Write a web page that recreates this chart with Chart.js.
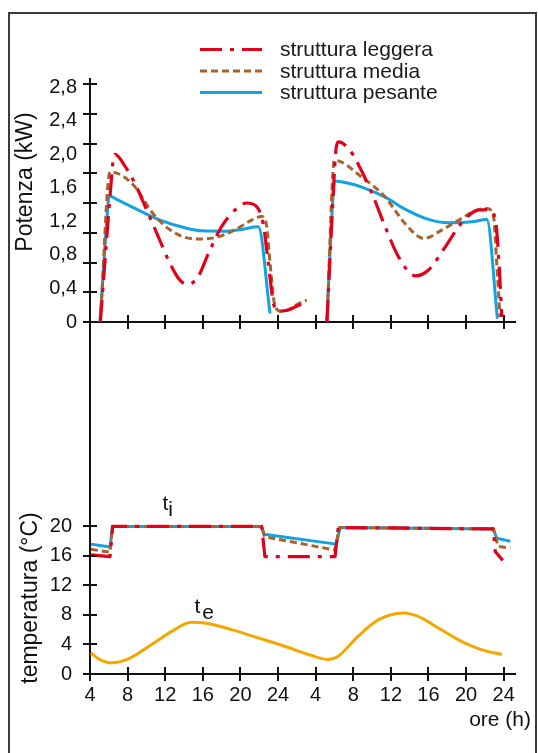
<!DOCTYPE html>
<html lang="it">
<head>
<meta charset="utf-8">
<title>Potenza e temperatura</title>
<script src="https://cdn.jsdelivr.net/npm/chart.js@4.4.1/dist/chart.umd.min.js"></script>
<style>
  html, body { margin: 0; padding: 0; background: #fff; overflow: hidden; }
  #foglio { position: relative; width: 538px; height: 753px; }
  #cornice { position: absolute; left: 8px; top: 12px; width: 529px; height: 760px; border: 2px solid #3b3b3b; box-sizing: border-box; }
  canvas { position: absolute; left: 0; }
  #potenza { top: 0; }
  #temperatura { top: 300px; }
</style>
</head>
<body>
<div id="foglio">
  <div id="cornice"></div>
  <canvas id="potenza" width="538" height="345"></canvas>
  <canvas id="temperatura" width="538" height="453"></canvas>
</div>
<script>
// asse x: due giorni di fila, ore 4..48 (28..48 = 4..24 del secondo giorno)
var oreTacche = [4, 8, 12, 16, 20, 24, 28, 32, 36, 40, 44, 48];
var oreEtichette = ['4', '8', '12', '16', '20', '24', '4', '8', '12', '16', '20', '24'];

var potTacche = [0, 0.4, 0.8, 1.2, 1.6, 2.0, 2.4, 2.8];
var potEtichette = ['0', '0,4', '0,8', '1,2', '1,6', '2,0', '2,4', '2,8'];
var tempTacche = [0, 4, 8, 12, 16, 20];
var tempEtichette = ['0', '4', '8', '12', '16', '20'];

// potenza (kW) - null = impianto spento
var oreLeggera = [5.1, 6.2, 6.45, 6.66, 7.72, 8.79, 10.03, 11.27, 12.5, 13.57, 14.4, 15.5, 16.6, 18.0, 19.4, 20.67, 21.7, 22.4, 22.97, 23.5, 24.03, 25.0, 26.2, 27.1, 28.0,
                  29.2, 29.9, 30.15, 30.4, 31.5, 32.5, 34.0, 35.4, 36.8, 38.6, 40.0, 41.8, 43.5, 45.3, 46.4, 47.1, 47.5, 47.8];
var kwLeggera = [0, 1.6, 1.92, 2.0, 1.86, 1.65, 1.335, 1.017, 0.70, 0.50, 0.45, 0.54, 0.82, 1.14, 1.335, 1.42, 1.38, 1.18, 0.70, 0.23, 0.13, 0.14, 0.20, 0.24, null,
                 0, 1.6, 2.05, 2.15, 2.07, 1.89, 1.53, 1.136, 0.78, 0.55, 0.62, 0.90, 1.18, 1.335, 1.34, 1.23, 0.70, 0.06];

var oreMedia = [5.1, 6.13, 7.37, 8.8, 10.56, 12.3, 14.1, 15.9, 17.65, 19.4, 21.2, 22.26, 22.8, 23.15, 23.7, 24.4, 26.2, 27.05, 28.0,
                29.2, 30.0, 32.9, 35.4, 37.5, 39.5, 41.4, 43.5, 45.1, 46.2, 46.9, 47.26, 47.6];
var kwMedia = [0, 1.79, 1.75, 1.61, 1.315, 1.117, 1.01, 0.99, 1.017, 1.10, 1.216, 1.26, 1.14, 0.70, 0.18, 0.125, 0.22, 0.26, null,
               0, 1.93, 1.73, 1.49, 1.176, 0.997, 1.097, 1.235, 1.335, 1.355, 1.27, 0.70, 0.06];

var orePesante = [5.06, 5.9, 6.02, 7.0, 8.79, 11.6, 14.1, 15.9, 18.4, 20.1, 21.9, 23.15, 28.0,
                  29.18, 29.9, 30.0, 31.5, 32.9, 35.4, 37.5, 40.0, 42.1, 44.6, 46.2, 47.33];
var kwPesante = [0, 1.38, 1.505, 1.455, 1.355, 1.21, 1.124, 1.088, 1.084, 1.105, 1.136, 0.10, null,
                 0, 1.6, 1.684, 1.655, 1.61, 1.49, 1.347, 1.224, 1.184, 1.195, 1.224, 0.04];

// temperatura interna ti (°C)
var oreTiLeggera = [4.1, 6.13, 6.4, 22.26, 22.6, 30.06, 30.4, 46.9, 47.1, 47.9];
var tiLeggera = [16.15, 15.9, 20.0, 20.0, 15.9, 15.9, 19.85, 19.66, 16.6, 15.4];
var oreTiMedia = [4.1, 6.13, 6.4, 22.26, 22.55, 30.06, 30.5, 46.9, 47.4, 48.7];
var tiMedia = [16.9, 16.5, 20.0, 20.0, 18.6, 16.8, 19.85, 19.66, 17.3, 17.05];
var oreTiPesante = [4.1, 6.13, 6.4, 22.26, 22.5, 30.2, 30.6, 46.9, 47.26, 48.7];
var tiPesante = [17.6, 17.2, 20.0, 20.0, 18.95, 17.6, 19.85, 19.66, 18.4, 18.0];

// temperatura esterna te (°C)
var oreTe = [4.1, 5.06, 6.3, 8.08, 10.56, 12.7, 14.8, 16.2, 19.07, 21.9, 24.7, 27.6, 29.35, 30.4, 32.5, 34.7, 37.3, 38.9, 41.05, 43.5, 45.6, 47.8];
var te = [2.85, 1.96, 1.51, 2.05, 3.99, 5.78, 7.0, 6.92, 6.01, 4.89, 3.76, 2.5, 1.96, 2.41, 5.1, 7.36, 8.27, 7.81, 6.24, 4.43, 3.31, 2.64];

var FONT = '"Liberation Sans", Arial, sans-serif';
Chart.defaults.font.family = FONT;
Chart.defaults.color = '#111';

var ROSSO = '#e2001a', MARRONE = '#a8622e', AZZURRO = '#12a3e0', ARANCIO = '#f4a700';
var stileLeggera = { borderColor: ROSSO, borderWidth: 3.2, borderDash: [22, 8, 4, 8] };
var stileMedia = { borderColor: MARRONE, borderWidth: 3, borderDash: [7, 4] };
var stilePesante = { borderColor: AZZURRO, borderWidth: 3, borderDash: [] };

function punti(ore, valori) {
    return ore.map(function (h, i) { return { x: h, y: valori[i] }; });
}

function tacchePer(valori) {
    return function (asse) { asse.ticks = valori.map(function (v) { return { value: v }; }); };
}

// tacche che attraversano gli assi
var tacche = {
    id: 'tacche',
    afterDraw: function (chart, args, opts) {
        var ctx = chart.ctx, x = chart.scales.x, y = chart.scales.y;
        var yVal = opts.y || y.ticks.map(function (t) { return t.value; });
        ctx.save();
        ctx.strokeStyle = '#111';
        ctx.lineWidth = 2;
        ctx.beginPath();
        x.ticks.forEach(function (t) {
            var px = Math.round(x.getPixelForValue(t.value));
            ctx.moveTo(px, x.top - 7); ctx.lineTo(px, x.top + 7);
        });
        yVal.forEach(function (v) {
            var py = Math.round(y.getPixelForValue(v));
            ctx.moveTo(y.right - 7, py); ctx.lineTo(y.right + 7, py);
        });
        ctx.stroke();
        ctx.restore();
    }
};

// scritte libere: titoli degli assi, ti / te
var scritte = {
    id: 'scritte',
    afterDraw: function (chart, args, opts) {
        var ctx = chart.ctx;
        (opts.voci || []).forEach(function (v) {
            var x = v.x, y = v.y;
            if (v.ora !== undefined) {
                x = chart.scales.x.getPixelForValue(v.ora);
                y = chart.scales.y.getPixelForValue(v.val);
            }
            ctx.save();
            ctx.fillStyle = '#111';
            ctx.translate(x, y);
            if (v.ruota) ctx.rotate(v.ruota);
            ctx.font = v.font;
            ctx.textAlign = v.align || 'center';
            ctx.textBaseline = v.base || 'middle';
            ctx.fillText(v.testo, 0, 0);
            if (v.pedice) {
                var w = ctx.measureText(v.testo).width;
                ctx.textAlign = 'left';
                ctx.fillText(v.pedice, w + (v.dx || 0), 5.5);
            }
            ctx.restore();
        });
    }
};

// legenda con il campione di linea di ogni serie
var legendaLinee = {
    id: 'legendaLinee',
    afterDraw: function (chart, args, o) {
        var ctx = chart.ctx;
        ctx.save();
        ctx.font = o.font;
        ctx.textBaseline = 'middle';
        chart.data.datasets.forEach(function (ds, i) {
            var y = o.y + i * o.passo;
            ctx.strokeStyle = ds.borderColor;
            ctx.lineWidth = ds.borderWidth;
            ctx.setLineDash(ds.borderDash || []);
            ctx.beginPath();
            ctx.moveTo(o.x, y);
            ctx.lineTo(o.x + o.lung, y);
            ctx.stroke();
            ctx.setLineDash([]);
            ctx.fillStyle = '#1a1a1a';
            ctx.fillText(ds.label, o.x + o.lung + 18, y + 1);
        });
        ctx.restore();
    }
};

var griglia = { drawOnChartArea: false, color: 'transparent', tickLength: 7 };
var bordo = { color: '#111', width: 2 };

var asseOre = {
    type: 'linear', min: 4, max: 49.2,
    afterBuildTicks: tacchePer(oreTacche),
    grid: griglia, border: bordo,
    ticks: { autoSkip: false, maxRotation: 0, font: { size: 20 }, padding: 2,
             callback: function (v, i) { return oreEtichette[i]; } }
};

var base = {
    responsive: false,
    animation: false,
    devicePixelRatio: 1,
    elements: { point: { radius: 0 }, line: { cubicInterpolationMode: 'monotone', borderCapStyle: 'butt', borderJoinStyle: 'round' } },
    events: []
};

new Chart(document.getElementById('potenza'), {
    type: 'line',
    data: {
        datasets: [
            Object.assign({ label: 'struttura leggera', data: punti(oreLeggera, kwLeggera) }, stileLeggera),
            Object.assign({ label: 'struttura media', data: punti(oreMedia, kwMedia) }, stileMedia),
            Object.assign({ label: 'struttura pesante', data: punti(orePesante, kwPesante) }, stilePesante)
        ]
    },
    options: Object.assign({}, base, {
        layout: { padding: { left: 0, right: 23, top: 79, bottom: 3 } },
        scales: {
            x: Object.assign({}, asseOre, {
                ticks: { display: false },
                afterFit: function (a) { a.height = 20; }
            }),
            y: {
                type: 'linear', min: 0, max: 2.9,
                afterBuildTicks: tacchePer(potTacche),
                afterFit: function (a) { a.width = 90; },
                grid: griglia, border: bordo,
                ticks: { font: { size: 20 }, padding: 6,
                         callback: function (v, i) { return potEtichette[i]; } }
            }
        },
        plugins: {
            legend: { display: false },
            tooltip: { enabled: false },
            tacche: { y: [0, 1, 2, 3, 4, 5, 6, 7, 8].map(function (k) { return k * 0.355; }) },
            legendaLinee: { x: 200, y: 49.5, passo: 21.5, lung: 62, font: '21px ' + FONT },
            scritte: { voci: [
                { testo: 'Potenza (kW)', x: 26, y: 182, ruota: -Math.PI / 2, font: '23px ' + FONT }
            ] }
        }
    }),
    plugins: [tacche, legendaLinee, scritte]
});

new Chart(document.getElementById('temperatura'), {
    type: 'line',
    data: {
        datasets: [
            Object.assign({ label: 'ti struttura leggera', data: punti(oreTiLeggera, tiLeggera), tension: 0, cubicInterpolationMode: 'default' }, stileLeggera),
            Object.assign({ label: 'ti struttura media', data: punti(oreTiMedia, tiMedia), tension: 0, cubicInterpolationMode: 'default' }, stileMedia),
            Object.assign({ label: 'ti struttura pesante', data: punti(oreTiPesante, tiPesante), tension: 0, cubicInterpolationMode: 'default' }, stilePesante),
            { label: 'te', data: punti(oreTe, te), borderColor: ARANCIO, borderWidth: 3 }
        ]
    },
    options: Object.assign({}, base, {
        layout: { padding: { left: 0, right: 23, top: 22, bottom: 0 } },
        scales: {
            x: Object.assign({}, asseOre, {
                afterFit: function (a) { a.height = 79; }
            }),
            y: {
                type: 'linear', min: 0, max: 352 / 7.4,
                afterBuildTicks: tacchePer(tempTacche),
                afterFit: function (a) { a.width = 90; },
                grid: griglia, border: bordo,
                ticks: { font: { size: 20 }, padding: 11,
                         callback: function (v, i) { return tempEtichette[i]; } }
            }
        },
        plugins: {
            legend: { display: false },
            tooltip: { enabled: false },
            tacche: {},
            scritte: { voci: [
                { testo: 'temperatura (°C)', x: 31, y: 298, ruota: -Math.PI / 2, font: '23px ' + FONT },
                { testo: 'ore (h)', x: 531, y: 420, align: 'right', font: '21px ' + FONT },
                { testo: 't', pedice: 'i', dx: 0, ora: 11.71, val: 22.16, align: 'left', base: 'alphabetic', font: '21px ' + FONT },
                { testo: 't', pedice: 'e', dx: 2, ora: 15.11, val: 8.2, align: 'left', base: 'alphabetic', font: '21px ' + FONT }
            ] }
        }
    }),
    plugins: [tacche, scritte]
});
</script>
</body>
</html>
